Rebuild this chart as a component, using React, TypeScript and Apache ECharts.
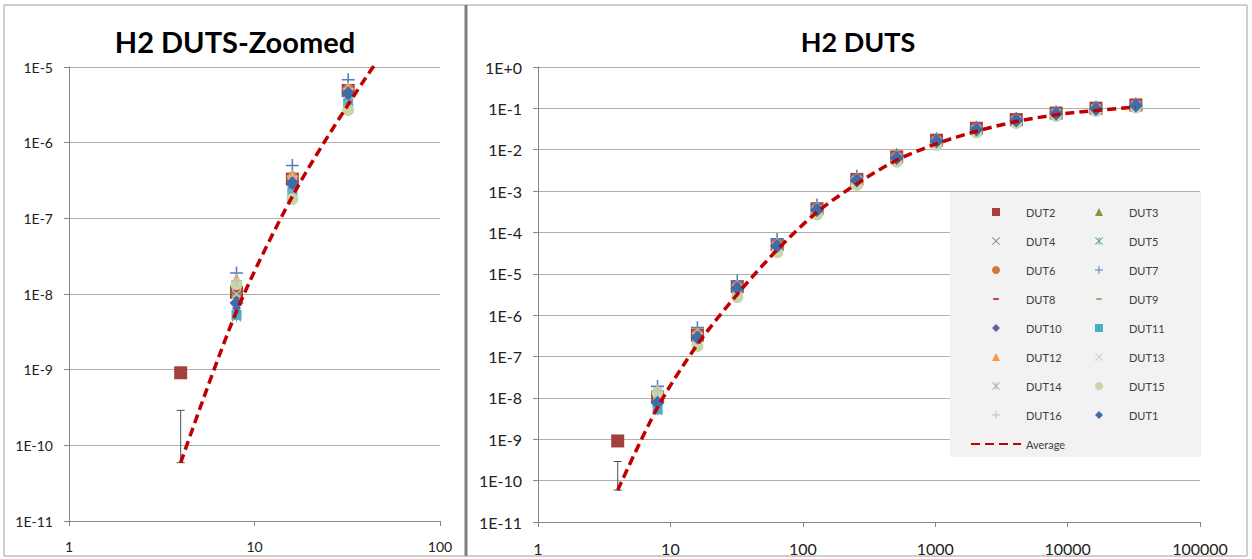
import React, { useEffect, useRef } from "react";
import * as echarts from "echarts";

// ---------- data ----------
const X_VALUES = [4, 8, 16, 32, 64, 128, 256, 512, 1024, 2048, 4096, 8192, 16384, 32768];

const DUT1 = [null, 7.6e-9, 2.9e-7, 4.5e-6, 4.7e-5, 3.5e-4, 1.8e-3, 6.3e-3, 1.6e-2, 3.1e-2, 5.1e-2, 7.4e-2, 9.7e-2, 1.17e-1];
const DUT2 = [9.1e-10, 1.05e-8, 3.3e-7, 4.9e-6, 5.1e-5, 3.75e-4, 1.92e-3, 6.7e-3, 1.7e-2, 3.3e-2, 5.35e-2, 7.7e-2, 1.01e-1, 1.21e-1];
const DUT3 = [null, 1.2e-8, 3.2e-7, 4.8e-6, 5.0e-5, 3.7e-4, 1.9e-3, 6.6e-3, 1.65e-2, 3.2e-2, 5.2e-2, 7.6e-2, 1.0e-1, 1.2e-1];
const DUT4 = [null, 9.0e-9, 2.7e-7, 4.0e-6, 4.3e-5, 3.3e-4, 1.7e-3, 6.0e-3, 1.5e-2, 3.0e-2, 4.9e-2, 7.2e-2, 9.4e-2, 1.14e-1];
const DUT5 = [null, 5.0e-9, 2.3e-7, 3.6e-6, 4.0e-5, 3.1e-4, 1.6e-3, 5.7e-3, 1.45e-2, 2.9e-2, 4.8e-2, 7.0e-2, 9.2e-2, 1.12e-1];
const DUT6 = [null, 1.25e-8, 3.5e-7, 5.1e-6, 5.4e-5, 3.9e-4, 2.0e-3, 6.9e-3, 1.7e-2, 3.3e-2, 5.4e-2, 7.8e-2, 1.02e-1, 1.23e-1];
const DUT7 = [null, 1.9e-8, 5.0e-7, 6.8e-6, 6.8e-5, 4.6e-4, 2.3e-3, 7.6e-3, 1.85e-2, 3.5e-2, 5.7e-2, 8.2e-2, 1.06e-1, 1.27e-1];
const DUT8 = [null, 1.1e-8, 3.3e-7, 4.9e-6, 5.1e-5, 3.8e-4, 1.95e-3, 6.7e-3, 1.68e-2, 3.25e-2, 5.3e-2, 7.7e-2, 1.01e-1, 1.21e-1];
const DUT9 = [null, 9.5e-9, 2.8e-7, 4.2e-6, 4.5e-5, 3.4e-4, 1.75e-3, 6.1e-3, 1.55e-2, 3.0e-2, 5.0e-2, 7.3e-2, 9.5e-2, 1.15e-1];
const DUT10 = [null, 6.5e-9, 2.6e-7, 3.9e-6, 4.2e-5, 3.2e-4, 1.65e-3, 5.9e-3, 1.5e-2, 2.95e-2, 4.9e-2, 7.1e-2, 9.3e-2, 1.13e-1];
const DUT11 = [null, 5.3e-9, 2.2e-7, 3.4e-6, 3.8e-5, 3.0e-4, 1.55e-3, 5.6e-3, 1.42e-2, 2.85e-2, 4.7e-2, 6.9e-2, 9.1e-2, 1.1e-1];
const DUT12 = [null, 1.6e-8, 3.8e-7, 5.4e-6, 5.6e-5, 4.0e-4, 2.05e-3, 7.1e-3, 1.75e-2, 3.35e-2, 5.5e-2, 7.9e-2, 1.03e-1, 1.24e-1];
const DUT13 = [null, 1.0e-8, 3.0e-7, 4.4e-6, 4.6e-5, 3.5e-4, 1.8e-3, 6.2e-3, 1.58e-2, 3.1e-2, 5.0e-2, 7.4e-2, 9.6e-2, 1.16e-1];
const DUT14 = [null, 8.0e-9, 2.5e-7, 3.8e-6, 4.1e-5, 3.2e-4, 1.62e-3, 5.8e-3, 1.48e-2, 2.9e-2, 4.8e-2, 7.0e-2, 9.2e-2, 1.12e-1];
const DUT15 = [null, 1.35e-8, 1.8e-7, 2.7e-6, 3.3e-5, 2.7e-4, 1.4e-3, 5.1e-3, 1.3e-2, 2.6e-2, 4.4e-2, 6.5e-2, 8.6e-2, 1.05e-1];
const DUT16 = [null, 1.5e-8, 3.6e-7, 5.2e-6, 5.5e-5, 3.95e-4, 2.0e-3, 7.0e-3, 1.72e-2, 3.3e-2, 5.4e-2, 7.8e-2, 1.02e-1, 1.22e-1];
const AVERAGE = [5.9e-11, 5.9e-9, 1.95e-7, 3.2e-6, 3.8e-5, 3.1e-4, 1.5e-3, 5.6e-3, 1.4e-2, 2.8e-2, 4.8e-2, 7.0e-2, 8.9e-2, 1.07e-1];

// error bar on the average at x = 4
const ERR_X = [4];
const ERR_LOW = [5.9e-11];
const ERR_HIGH = [2.9e-10];

const LEFT_TITLE = "H2 DUTS-Zoomed";
const RIGHT_TITLE = "H2 DUTS";

// ---------- styles ----------
const SQUARE = "path://M0,0H10V10H0Z";
const TRIANGLE = "path://M5,0L10,10H0Z";
const DIAMOND = "path://M5,0L10,5L5,10L0,5Z";
const PLUS = "path://M4.4,0H5.6V4.4H10V5.6H5.6V10H4.4V5.6H0V4.4H4.4Z";
const CROSS = "path://M0.8,0L5,4.2L9.2,0L10,0.8L5.8,5L10,9.2L9.2,10L5,5.8L0.8,10L0,9.2L4.2,5L0,0.8Z";
const STAR = "path://M0.8,0L5,4.2L9.2,0L10,0.8L5.8,5L10,9.2L9.2,10L5,5.8L0.8,10L0,9.2L4.2,5L0,0.8Z M4.5,0H5.5V10H4.5Z";
const DASH = "path://M0,0M10,10M1.5,3.8H8.5V6.2H1.5Z";

type Def = { name: string; data: (number | null)[]; symbol: string; size: number; color: string };

const SERIES_DEFS: Def[] = [
  { name: "DUT2", data: DUT2, symbol: SQUARE, size: 13, color: "#A3403C" },
  { name: "DUT3", data: DUT3, symbol: TRIANGLE, size: 11, color: "#7D9B3F" },
  { name: "DUT4", data: DUT4, symbol: CROSS, size: 10, color: "#8A8A8A" },
  { name: "DUT5", data: DUT5, symbol: STAR, size: 10, color: "#5E9FA6" },
  { name: "DUT6", data: DUT6, symbol: "circle", size: 11, color: "#D2773A" },
  { name: "DUT7", data: DUT7, symbol: PLUS, size: 13, color: "#4F7FC0" },
  { name: "DUT8", data: DUT8, symbol: DASH, size: 10, color: "#B53A4A" },
  { name: "DUT9", data: DUT9, symbol: DASH, size: 12, color: "#9AAE6E" },
  { name: "DUT10", data: DUT10, symbol: DIAMOND, size: 9, color: "#6A5AA0" },
  { name: "DUT11", data: DUT11, symbol: SQUARE, size: 10, color: "#4BACC6" },
  { name: "DUT12", data: DUT12, symbol: TRIANGLE, size: 11, color: "#F79646" },
  { name: "DUT13", data: DUT13, symbol: CROSS, size: 10, color: "#C8C8C8" },
  { name: "DUT14", data: DUT14, symbol: STAR, size: 10, color: "#B0B0B0" },
  { name: "DUT15", data: DUT15, symbol: "circle", size: 12, color: "#C7D6A6" },
  { name: "DUT16", data: DUT16, symbol: PLUS, size: 11, color: "#BDBDBD" },
  { name: "DUT1", data: DUT1, symbol: DIAMOND, size: 14, color: "#3E6DAA" },
];

const LEGEND_LEFT: any[] = ["DUT2", "DUT4", "DUT6", "DUT8", "DUT10", "DUT12", "DUT14", "DUT16", { name: "Average", itemStyle: { opacity: 0 } }];
const LEGEND_RIGHT = ["DUT3", "DUT5", "DUT7", "DUT9", "DUT11", "DUT13", "DUT15", "DUT1"];

const toPairs = (arr: (number | null)[]) =>
  X_VALUES.map((x, i) => (arr[i] == null ? null : [x, arr[i] as number])).filter((p) => p !== null);

const yFmt = (v: number) => {
  const e = Math.round(Math.log10(v));
  return e >= 0 ? `1E+${e}` : `1E${e}`;
};
const xFmt = (v: number) => String(Math.round(v));

const FONT = "Lato, 'Open Sans', sans-serif";
const AXIS_COLOR = "#868686";
const GRID_COLOR = "#AFAFAF";

function makeAxes(xmin: number, xmax: number, ymin: number, ymax: number, idx: number, fs: number) {
  const xAxis = {
    type: "log",
    gridIndex: idx,
    logBase: 10,
    min: xmin,
    max: xmax,
    splitNumber: Math.round(Math.log10(xmax / xmin)),
    axisLine: { show: true, lineStyle: { color: AXIS_COLOR, width: 1 } },
    axisTick: { show: true, length: 5, lineStyle: { color: AXIS_COLOR } },
    minorTick: { show: false },
    splitLine: { show: false },
    axisLabel: { formatter: xFmt, fontFamily: FONT, fontSize: fs, color: "#222", margin: 18 },
  };
  const yAxis = {
    type: "log",
    gridIndex: idx,
    logBase: 10,
    min: ymin,
    max: ymax,
    interval: 1,
    splitNumber: Math.round(Math.log10(ymax / ymin)),
    axisLine: { show: true, lineStyle: { color: AXIS_COLOR, width: 1 } },
    axisTick: { show: true, length: 5, lineStyle: { color: AXIS_COLOR } },
    splitLine: { show: true, lineStyle: { color: GRID_COLOR, width: 1 } },
    axisLabel: { formatter: yFmt, fontFamily: FONT, fontSize: fs, color: "#222", margin: 16 },
  };
  return { xAxis, yAxis };
}

function buildSeries(idx: number) {
  const out: any[] = [];
  SERIES_DEFS.forEach((d) => {
    out.push({
      type: "scatter",
      name: d.name,
      xAxisIndex: idx,
      yAxisIndex: idx,
      data: toPairs(d.data),
      symbol: d.symbol,
      symbolSize: d.size,
      itemStyle: { color: d.color, opacity: 1 },
      clip: true,
      z: 3,
    });
  });
  out.push({
    type: "line",
    name: "Average",
    xAxisIndex: idx,
    yAxisIndex: idx,
    data: toPairs(AVERAGE),
    showSymbol: false,
    symbol: "none",
    smooth: 0.3,
    clip: true,
    lineStyle: { color: "#C00000", width: 3.5, type: [9, 5] },
    itemStyle: { color: "#C00000", opacity: 0 },
    z: 4,
  });
  out.push({
    type: "custom",
    name: "Average error",
    xAxisIndex: idx,
    yAxisIndex: idx,
    data: ERR_X.map((x, i) => [x, ERR_LOW[i], ERR_HIGH[i]]),
    z: 4,
    renderItem: (params: any, api: any) => {
      const x = api.value(0);
      const p1 = api.coord([x, api.value(1)]);
      const p2 = api.coord([x, api.value(2)]);
      const st = { stroke: "#505050", lineWidth: 1 };
      return {
        type: "group",
        children: [
          { type: "line", shape: { x1: p1[0], y1: p1[1], x2: p2[0], y2: p2[1] }, style: st },
          { type: "line", shape: { x1: p2[0] - 4, y1: p2[1], x2: p2[0] + 4, y2: p2[1] }, style: st },
          { type: "line", shape: { x1: p1[0] - 4, y1: p1[1], x2: p1[0] + 4, y2: p1[1] }, style: st },
        ],
      };
    },
  });
  return out;
}

export default function App() {
  const ref = useRef<HTMLDivElement>(null);
  useEffect(() => {
    document.body.style.margin = "0";
    if (!ref.current) return;
    const chart = echarts.init(ref.current, null, { renderer: "svg" });
    const a0 = makeAxes(1, 100, 1e-11, 1e-5, 0, 14);
    const a1 = makeAxes(1, 100000, 1e-11, 1, 1, 16);
    const legendCommon = {
      orient: "vertical",
      itemWidth: 50,
      itemHeight: 8,
      itemGap: 15,
      selectedMode: false,
      textStyle: { fontFamily: FONT, fontSize: 11, color: "#404040", lineHeight: 14 },
      z: 6,
    };
    chart.setOption({
      animation: false,
      backgroundColor: "#ffffff",
      grid: [
        { left: 69, top: 67, width: 371, height: 454, containLabel: false },
        { left: 538, top: 67, width: 662, height: 455, containLabel: false },
      ],
      xAxis: [a0.xAxis, a1.xAxis],
      yAxis: [a0.yAxis, a1.yAxis],
      legend: [
        { ...legendCommon, data: LEGEND_LEFT, left: 965, top: 200 },
        { ...legendCommon, data: LEGEND_RIGHT, left: 1090, top: 200 },
      ],
      graphic: [
        {
          type: "rect",
          shape: { x: 4, y: 5, width: 1243, height: 551 },
          style: { fill: "none", stroke: "#A0A0A0", lineWidth: 1 },
          z: 1,
        },
        {
          type: "line",
          shape: { x1: 466, y1: 5, x2: 466, y2: 556 },
          style: { stroke: "#7F7F7F", lineWidth: 3 },
          z: 1,
        },
        {
          type: "rect",
          shape: { x: 950, y: 192, width: 251, height: 265 },
          style: { fill: "#F2F2F2" },
          z: 5,
        },
        {
          type: "text",
          x: 235,
          y: 41,
          style: {
            text: LEFT_TITLE,
            font: `bold 29px ${FONT}`,
            fill: "#000",
            align: "center",
            verticalAlign: "middle",
            textAlign: "center",
            textVerticalAlign: "middle",
          },
          z: 6,
        },
        {
          type: "text",
          x: 858,
          y: 41,
          style: {
            text: RIGHT_TITLE,
            font: `bold 27px ${FONT}`,
            fill: "#000",
            align: "center",
            verticalAlign: "middle",
            textAlign: "center",
            textVerticalAlign: "middle",
          },
          z: 6,
        },
      ],
      series: [...buildSeries(0), ...buildSeries(1)],
    });
    return () => chart.dispose();
  }, []);
  return <div ref={ref} style={{ width: 1252, height: 559 }} />;
}
